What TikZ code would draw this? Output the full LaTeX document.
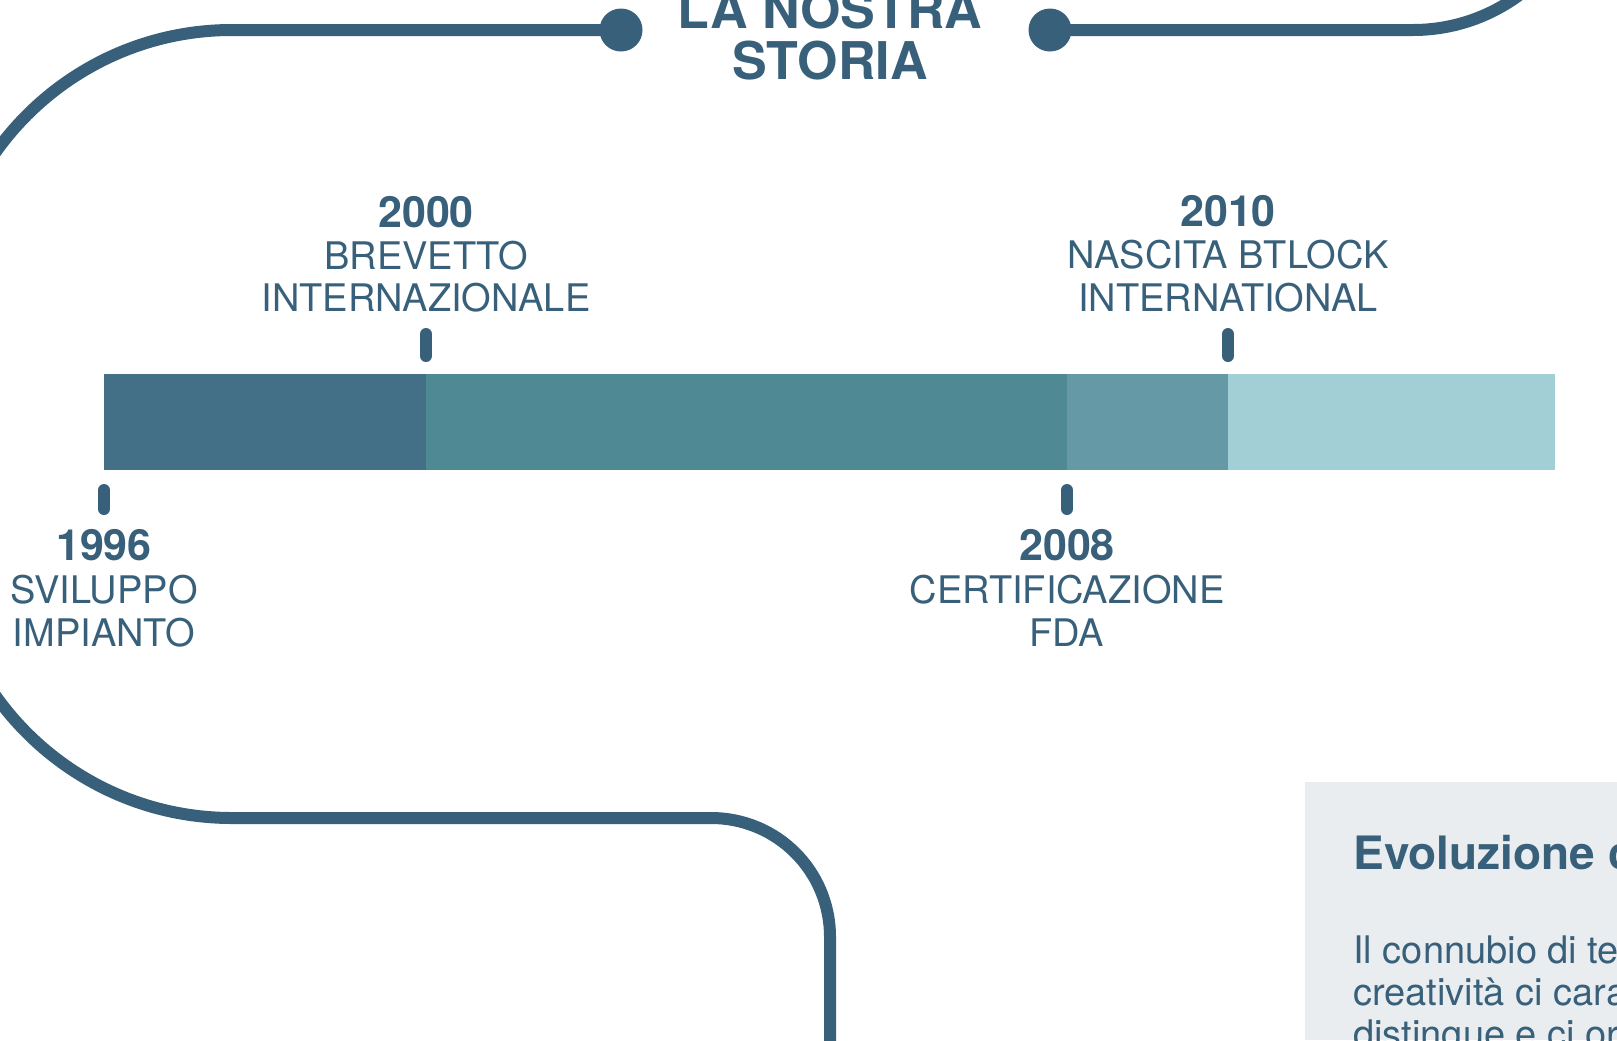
\documentclass[tikz,border=0pt]{standalone}
\usepackage{fontspec}
\setmainfont{TeX Gyre Heros}
\definecolor{ink}{HTML}{38607A}
\definecolor{segA}{HTML}{436F87}
\definecolor{segB}{HTML}{4F8994}
\definecolor{segC}{HTML}{6599A5}
\definecolor{segD}{HTML}{A2CFD5}
\definecolor{boxbg}{HTML}{E9EDF0}
\tikzset{
  route/.style={draw=ink, line width=6pt},
  dot/.style={circle, fill=ink, minimum size=21.5pt, inner sep=0pt},
  tick/.style={draw=ink, line width=6pt, line cap=round},
  title/.style={text=ink, anchor=base, inner sep=0pt, font=\fontsize{26}{30}\selectfont\bfseries},
  year/.style={text=ink, anchor=base, inner sep=0pt, font=\fontsize{21.5}{25}\selectfont\bfseries},
  desc/.style={text=ink, anchor=base, inner sep=0pt, font=\fontsize{19}{21}\selectfont},
  head/.style={text=ink, anchor=base west, inner sep=0pt, font=\fontsize{23}{27}\selectfont\bfseries},
  body/.style={text=ink, anchor=base west, inner sep=0pt, font=\fontsize{19}{21}\selectfont}
}
\begin{document}
\begin{tikzpicture}[x=0.5pt, y=-0.5pt]
        \useasboundingbox (0,0) rectangle (1617,1040);
        \clip (0,0) rectangle (1617,1040);

        \node[dot] (dotl) at (621,30) {};
        \node[dot] (dotr) at (1050,30) {};

        \draw[route] (dotl.center) -- (232,30)
            .. controls (72,30) and (-58,160) .. (-58,320)
            -- (-58,528)
            .. controls (-58,688) and (72,818) .. (232,818)
            -- (711,818)
            .. controls (777,818) and (830,871) .. (830,937)
            -- (830,1060);
        \draw[route] (dotr.center) -- (1413,30)
            .. controls (1512,30) and (1593,-51) .. (1593,-150);

        \node[title] (ttl1) at (830,28) {LA NOSTRA};
        \node[title] (ttl2) at (830,79) {STORIA};

        \fill[segA] (104,374) rectangle (426,470);
        \fill[segB] (426,374) rectangle (1067,470);
        \fill[segC] (1067,374) rectangle (1228,470);
        \fill[segD] (1228,374) rectangle (1555,470);

        \draw[tick] (426,334) -- (426,356);
        \draw[tick] (1228,334) -- (1228,356);
        \draw[tick] (104,490) -- (104,509);
        \draw[tick] (1067,490) -- (1067,509);

        \node[year] (y2000) at (426,227) {2000};
        \node[desc] (d2000a) at (426,269) {BREVETTO};
        \node[desc] (d2000b) at (426,311) {INTERNAZIONALE};

        \node[year] (y2010) at (1228,226) {2010};
        \node[desc] (d2010a) at (1228,268) {NASCITA BTLOCK};
        \node[desc] (d2010b) at (1228,311) {INTERNATIONAL};

        \node[year] (y1996) at (104,560) {1996};
        \node[desc] (d1996a) at (104,603) {SVILUPPO};
        \node[desc] (d1996b) at (104,646) {IMPIANTO};

        \node[year] (y2008) at (1067,560) {2008};
        \node[desc] (d2008a) at (1067,603) {CERTIFICAZIONE};
        \node[desc] (d2008b) at (1067,646) {FDA};

        \fill[boxbg] (1305,782) rectangle (1617,1040);
        \node[head] (evo) at (1353,869) {Evoluzione c};
        \node[body] (txt1) at (1353,963) {Il connubio di te};
        \node[body] (txt2) at (1353,1005) {creatività ci cara};
        \node[body] (txt3) at (1353,1047) {distingue e ci or};

    \end{tikzpicture}
\end{document}
